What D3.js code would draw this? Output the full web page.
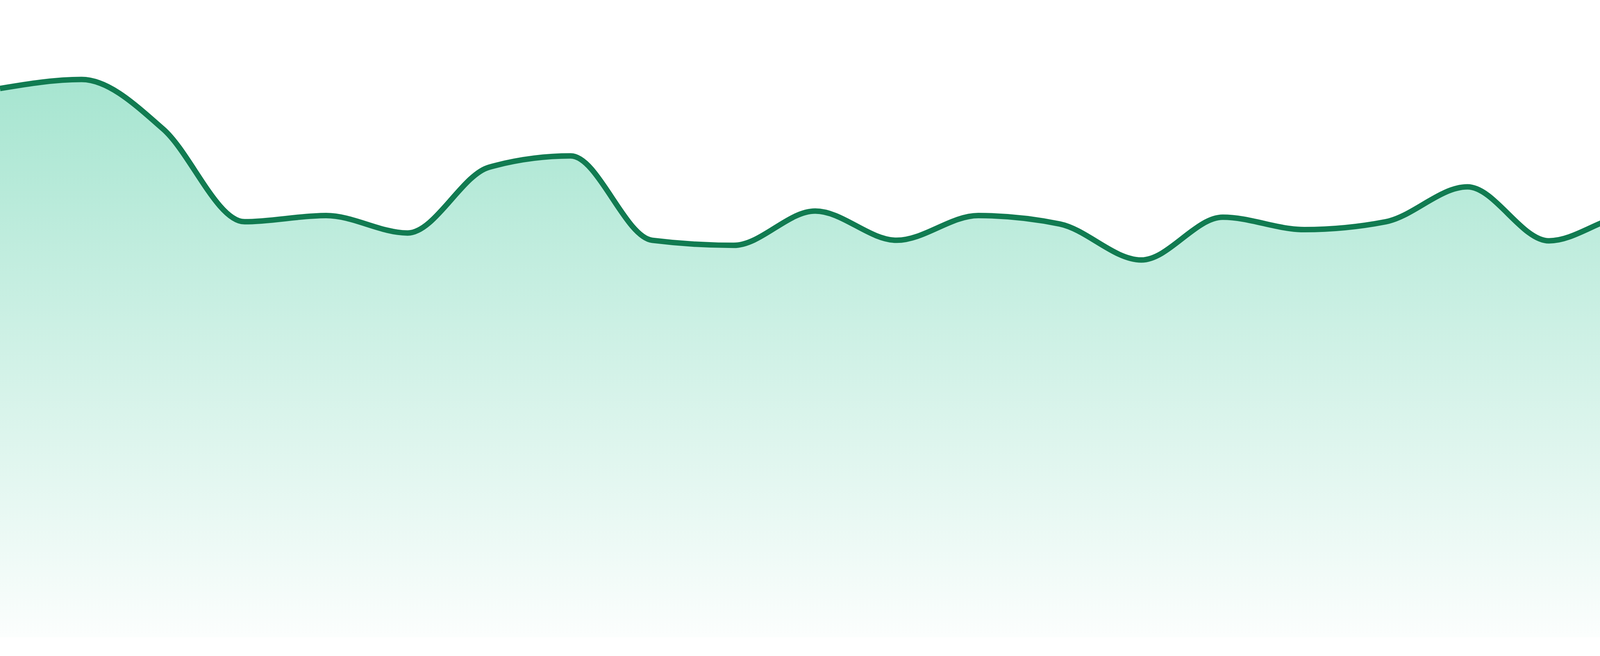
<!DOCTYPE html>
<html>
<head>
<meta charset="utf-8">
<script src="https://cdn.jsdelivr.net/npm/d3@7"></script>
<style>
  html, body { margin: 0; padding: 0; background: #ffffff; }
  svg { display: block; }
</style>
</head>
<body>
<div id="chart"></div>
<script>
// Data (index positions along x)
const categories = d3.range(24);
const values = [97.6, 99.2, 90.4, 73.9, 75.0, 71.9, 83.6, 85.6, 70.6, 69.7, 75.8, 70.6,
                75.0, 73.5, 67.1, 74.7, 72.5, 73.9, 80.1, 70.5, 75.0, 66.3, 65.0, 55.7];
const yDomain = [0, 100];

const W = 4800, H = 1680;
const margin = { top: 192, right: 0, bottom: 48, left: 0 };

const svg = d3.select("#chart").append("svg")
  .attr("width", W).attr("height", H);

const x = d3.scaleLinear()
  .domain([0, categories.length - 1])
  .range([margin.left, W - margin.right]);

const y = d3.scaleLinear()
  .domain(yDomain)
  .range([H - margin.bottom, margin.top]);

const data = categories.map((c, i) => ({ c, v: values[i] }));

const defs = svg.append("defs");
const grad = defs.append("linearGradient")
  .attr("id", "areaGrad")
  .attr("gradientUnits", "userSpaceOnUse")
  .attr("x1", 0).attr("x2", 0)
  .attr("y1", y(d3.max(values))).attr("y2", y(0));
grad.append("stop").attr("offset", "0%").attr("stop-color", "#10b981").attr("stop-opacity", 0.37);
grad.append("stop").attr("offset", "100%").attr("stop-color", "#10b981").attr("stop-opacity", 0.015);

const area = d3.area()
  .x(d => x(d.c))
  .y0(y(0))
  .y1(d => y(d.v))
  .curve(d3.curveMonotoneX);

const line = d3.line()
  .x(d => x(d.c))
  .y(d => y(d.v))
  .curve(d3.curveMonotoneX);

svg.append("path")
  .datum(data)
  .attr("d", area)
  .attr("fill", "url(#areaGrad)");

svg.append("path")
  .datum(data)
  .attr("d", line)
  .attr("fill", "none")
  .attr("stroke", "#117b51")
  .attr("stroke-width", 14)
  .attr("stroke-linejoin", "round");
</script>
</body>
</html>
